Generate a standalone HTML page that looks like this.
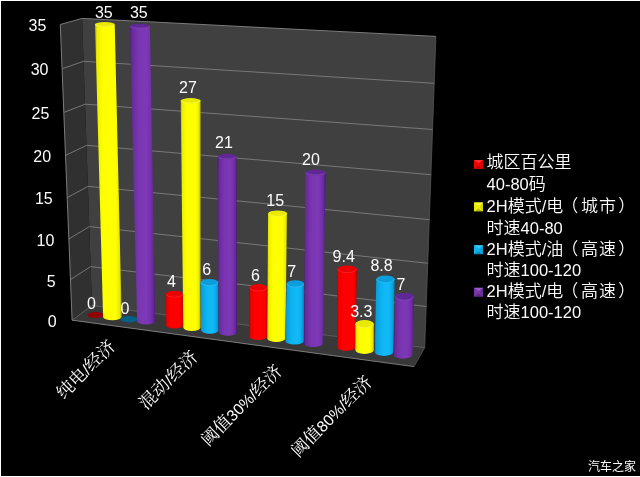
<!DOCTYPE html>
<html lang="zh-CN"><head><meta charset="utf-8"><title>chart</title>
<style>
html,body{margin:0;padding:0;background:#000;overflow:hidden}
body{width:640px;height:477px}
svg{display:block}
text{font-family:"Liberation Sans","Noto Sans CJK SC",sans-serif;fill:#fff}
.num{font-size:16px}
.zero{font-size:16px}
.cat{font-size:15.7px;font-family:"Liberation Sans","Noto Serif CJK SC",serif;font-weight:400}
.leg{font-size:16.5px;font-weight:350}
.wm{font-size:12px;font-weight:400}
</style></head><body>
<svg width="640" height="477" viewBox="0 0 640 477">
<defs>
<linearGradient id="gr" x1="0" y1="0" x2="1" y2="0"><stop offset="0" stop-color="#b80000"/><stop offset="0.08" stop-color="#ec0000"/><stop offset="0.3" stop-color="#ff0000"/><stop offset="0.78" stop-color="#ff0000"/><stop offset="0.92" stop-color="#e80000"/><stop offset="1" stop-color="#b40000"/></linearGradient>
<linearGradient id="gy" x1="0" y1="0" x2="1" y2="0"><stop offset="0" stop-color="#b4b400"/><stop offset="0.08" stop-color="#eeee00"/><stop offset="0.3" stop-color="#ffff00"/><stop offset="0.78" stop-color="#ffff00"/><stop offset="0.92" stop-color="#e8e800"/><stop offset="1" stop-color="#b0b000"/></linearGradient>
<linearGradient id="gc" x1="0" y1="0" x2="1" y2="0"><stop offset="0" stop-color="#067cb0"/><stop offset="0.08" stop-color="#08a0dc"/><stop offset="0.35" stop-color="#0cb4f2"/><stop offset="0.65" stop-color="#14baf8"/><stop offset="0.8" stop-color="#0cb2f0"/><stop offset="0.92" stop-color="#089cd8"/><stop offset="1" stop-color="#0678a8"/></linearGradient>
<linearGradient id="gp" x1="0" y1="0" x2="1" y2="0"><stop offset="0" stop-color="#4c1c78"/><stop offset="0.08" stop-color="#682a9c"/><stop offset="0.35" stop-color="#7a36b2"/><stop offset="0.65" stop-color="#7c38b6"/><stop offset="0.8" stop-color="#7632ac"/><stop offset="0.92" stop-color="#642898"/><stop offset="1" stop-color="#481870"/></linearGradient>
</defs>
<rect x="0" y="0" width="640" height="477" fill="#000"/>
<polygon points="60.3,24.5 82.1,18.4 92.0,305.5 72.1,320.2" fill="#303030"/>
<polygon points="82.1,18.4 435.9,36.4 424.7,347.7 92.0,305.5" fill="#404040"/>
<polygon points="72.1,320.2 92.0,305.5 424.7,347.7 414.0,366.6" fill="#383838"/>
<polyline points="62.4,68.6 83.7,61.3 434.4,83.3" fill="none" stroke="#828282" stroke-width="0.85"/>
<polyline points="64.2,112.3 85.2,104.2 433.0,129.5" fill="none" stroke="#828282" stroke-width="0.85"/>
<polyline points="65.8,155.3 86.7,145.3 431.3,174.7" fill="none" stroke="#828282" stroke-width="0.85"/>
<polyline points="67.3,197.6 88.1,186.3 429.7,219.7" fill="none" stroke="#828282" stroke-width="0.85"/>
<polyline points="68.9,238.9 89.4,226.6 428.2,263.3" fill="none" stroke="#828282" stroke-width="0.85"/>
<polyline points="70.5,279.5 90.7,266.6 426.6,306.5" fill="none" stroke="#828282" stroke-width="0.85"/>
<polyline points="72.1,320.2 60.3,24.5 82.1,18.4 435.9,36.4" fill="none" stroke="#7c7c7c" stroke-width="1"/>
<polyline points="72.1,320.2 92.0,305.5 424.7,347.7" fill="none" stroke="#6a6a6a" stroke-width="0.8"/>
<polyline points="72.1,320.2 414.0,366.6" fill="none" stroke="#8c8c8c" stroke-width="0.85"/>
<polyline points="435.9,36.4 424.7,347.7 414.0,366.6" fill="none" stroke="#555" stroke-width="0.8"/>
<ellipse cx="96.0" cy="315.0" rx="8.6" ry="3.0" fill="#900000"/>
<path d="M95.0,24.5 L103.1,317.0 A9.3,3.2 0 0 0 121.7,317.0 L114.7,24.5 Z" fill="url(#gy)"/>
<ellipse cx="104.8" cy="24.5" rx="9.9" ry="2.4" fill="#eaea00"/>
<path d="M95.4,24.5 A9.5,2.1 0 0 0 114.3,24.5" fill="none" stroke="#ffff70" stroke-width="0.7" stroke-opacity="0.75"/>
<ellipse cx="129.0" cy="319.3" rx="8.6" ry="3.2" fill="#006088"/>
<path d="M129.9,26.1 L137.1,321.3 A9.1,3.2 0 0 0 155.3,321.3 L149.9,26.1 Z" fill="url(#gp)"/>
<ellipse cx="139.9" cy="26.1" rx="10.0" ry="2.4" fill="#602896"/>
<path d="M130.3,26.1 A9.6,2.1 0 0 0 149.5,26.1" fill="none" stroke="#9858cc" stroke-width="0.7" stroke-opacity="0.75"/>
<path d="M165.7,294.3 L166.2,325.4 A8.6,3.4 0 0 0 183.3,325.4 L183.0,294.3 Z" fill="url(#gr)"/>
<ellipse cx="174.3" cy="294.3" rx="8.7" ry="3.5" fill="#ea0000"/>
<path d="M166.1,294.3 A8.3,3.2 0 0 0 182.6,294.3" fill="none" stroke="#ff4040" stroke-width="0.7" stroke-opacity="0.75"/>
<path d="M180.7,100.8 L183.3,327.6 A8.6,3.4 0 0 0 200.6,327.6 L200.6,100.8 Z" fill="url(#gy)"/>
<ellipse cx="190.6" cy="100.8" rx="10.0" ry="2.7" fill="#eaea00"/>
<path d="M181.1,100.8 A9.6,2.4 0 0 0 200.2,100.8" fill="none" stroke="#ffff70" stroke-width="0.7" stroke-opacity="0.75"/>
<path d="M200.3,282.4 L201.1,330.3 A8.8,3.4 0 0 0 218.7,330.3 L218.4,282.4 Z" fill="url(#gc)"/>
<ellipse cx="209.4" cy="282.4" rx="9.0" ry="3.5" fill="#0c9edc"/>
<path d="M200.7,282.4 A8.6,3.2 0 0 0 218.0,282.4" fill="none" stroke="#40ccff" stroke-width="0.7" stroke-opacity="0.75"/>
<path d="M217.6,156.7 L218.7,332.6 A9.2,3.4 0 0 0 237.0,332.6 L236.5,156.7 Z" fill="url(#gp)"/>
<ellipse cx="227.1" cy="156.7" rx="9.5" ry="2.9" fill="#602896"/>
<path d="M218.0,156.7 A9.1,2.6 0 0 0 236.1,156.7" fill="none" stroke="#9858cc" stroke-width="0.7" stroke-opacity="0.75"/>
<path d="M249.5,287.7 L249.2,336.4 A9.0,3.6 0 0 0 267.2,336.4 L267.5,287.7 Z" fill="url(#gr)"/>
<ellipse cx="258.5" cy="287.7" rx="9.0" ry="3.6" fill="#ea0000"/>
<path d="M249.9,287.7 A8.6,3.3 0 0 0 267.1,287.7" fill="none" stroke="#ff4040" stroke-width="0.7" stroke-opacity="0.75"/>
<path d="M268.1,213.5 L267.2,338.7 A9.1,3.6 0 0 0 285.3,338.7 L287.1,213.5 Z" fill="url(#gy)"/>
<ellipse cx="277.6" cy="213.5" rx="9.5" ry="3.1" fill="#eaea00"/>
<path d="M268.5,213.5 A9.1,2.8 0 0 0 286.7,213.5" fill="none" stroke="#ffff70" stroke-width="0.7" stroke-opacity="0.75"/>
<path d="M286.6,283.8 L285.3,341.0 A9.3,3.6 0 0 0 303.9,341.0 L304.2,283.8 Z" fill="url(#gc)"/>
<ellipse cx="295.4" cy="283.8" rx="8.8" ry="3.6" fill="#0c9edc"/>
<path d="M287.0,283.8 A8.4,3.3 0 0 0 303.8,283.8" fill="none" stroke="#40ccff" stroke-width="0.7" stroke-opacity="0.75"/>
<path d="M305.3,172.6 L303.9,343.4 A9.4,3.6 0 0 0 322.7,343.4 L325.6,172.6 Z" fill="url(#gp)"/>
<ellipse cx="315.5" cy="172.6" rx="10.2" ry="3.0" fill="#602896"/>
<path d="M305.7,172.6 A9.8,2.7 0 0 0 325.2,172.6" fill="none" stroke="#9858cc" stroke-width="0.7" stroke-opacity="0.75"/>
<path d="M337.3,269.2 L337.0,347.0 A9.2,3.8 0 0 0 355.5,347.0 L356.9,269.2 Z" fill="url(#gr)"/>
<ellipse cx="347.1" cy="269.2" rx="9.8" ry="3.7" fill="#ea0000"/>
<path d="M337.7,269.2 A9.4,3.4 0 0 0 356.5,269.2" fill="none" stroke="#ff4040" stroke-width="0.7" stroke-opacity="0.75"/>
<path d="M355.2,324.0 L355.2,350.1 A9.3,3.8 0 0 0 373.9,350.1 L373.9,324.0 Z" fill="url(#gy)"/>
<ellipse cx="364.5" cy="324.0" rx="9.3" ry="4.0" fill="#eaea00"/>
<path d="M355.6,324.0 A8.9,3.7 0 0 0 373.5,324.0" fill="none" stroke="#ffff70" stroke-width="0.7" stroke-opacity="0.75"/>
<path d="M376.3,279.2 L374.6,352.1 A9.3,3.8 0 0 0 393.3,352.1 L394.7,279.2 Z" fill="url(#gc)"/>
<ellipse cx="385.5" cy="279.2" rx="9.2" ry="3.8" fill="#0c9edc"/>
<path d="M376.7,279.2 A8.8,3.5 0 0 0 394.3,279.2" fill="none" stroke="#40ccff" stroke-width="0.7" stroke-opacity="0.75"/>
<path d="M395.2,296.6 L393.6,354.9 A9.4,3.8 0 0 0 412.4,354.9 L414.0,296.6 Z" fill="url(#gp)"/>
<ellipse cx="404.6" cy="296.6" rx="9.4" ry="3.9" fill="#602896"/>
<path d="M395.6,296.6 A9.0,3.6 0 0 0 413.6,296.6" fill="none" stroke="#9858cc" stroke-width="0.7" stroke-opacity="0.75"/>
<g opacity="0.996">
<text class="num" x="46.3" y="30.8" text-anchor="end">35</text>
<text class="num" x="48.5" y="75.0" text-anchor="end">30</text>
<text class="num" x="49.3" y="118.9" text-anchor="end">25</text>
<text class="num" x="51.1" y="162.2" text-anchor="end">20</text>
<text class="num" x="52.7" y="204.2" text-anchor="end">15</text>
<text class="num" x="54.4" y="246.2" text-anchor="end">10</text>
<text class="num" x="55.6" y="287.2" text-anchor="end">5</text>
<text class="zero" x="56.6" y="327.2" text-anchor="end">0</text>
<text class="num" x="94.9" y="17.9">35</text>
<text class="num" x="129.9" y="17.9">35</text>
<text class="zero" x="87.1" y="308.6">0</text>
<text class="zero" x="120.6" y="313.8">0</text>
<text class="num" x="167.0" y="286.9">4</text>
<text class="num" x="179.0" y="92.6">27</text>
<text class="num" x="202.2" y="275.1">6</text>
<text class="num" x="215.0" y="148.2">21</text>
<text class="num" x="251.0" y="280.6">6</text>
<text class="num" x="266.3" y="205.7">15</text>
<text class="num" x="287.2" y="276.7">7</text>
<text class="num" x="302.0" y="165.2">20</text>
<text class="num" x="332.6" y="261.7">9.4</text>
<text class="num" x="350.2" y="316.8">3.3</text>
<text class="num" x="370.4" y="271.4">8.8</text>
<text class="num" x="396.6" y="289.7">7</text>
<text class="cat" text-anchor="end" transform="translate(116.3,347.3) rotate(-45)"><tspan font-size="17.5px">纯电</tspan>/<tspan font-size="17.5px">经济</tspan></text>
<text class="cat" text-anchor="end" transform="translate(198.8,357.8) rotate(-45)"><tspan font-size="17.5px">混动</tspan>/<tspan font-size="17.5px">经济</tspan></text>
<text class="cat" text-anchor="end" transform="translate(283.0,372.2) rotate(-45)"><tspan font-size="17.5px">阈值</tspan>30%/<tspan font-size="17.5px">经济</tspan></text>
<text class="cat" text-anchor="end" transform="translate(373.0,383.1) rotate(-45)"><tspan font-size="17.5px">阈值</tspan>80%/<tspan font-size="17.5px">经济</tspan></text>
<text class="leg" x="486.6" y="167.8"><tspan font-size="17px">城区百公里</tspan></text>
<text class="leg" x="486.6" y="189.8">40-80<tspan font-size="17px">码</tspan></text>
<text class="leg" x="486.6" y="211.9">2H<tspan font-size="17px">模式</tspan>/<tspan font-size="17px">电</tspan><tspan font-size="17px" dx="-2 2.6 1.2 2.2">（城市）</tspan></text>
<text class="leg" x="486.6" y="233.7"><tspan font-size="17px">时速</tspan>40-80</text>
<text class="leg" x="486.6" y="254.7">2H<tspan font-size="17px">模式</tspan>/<tspan font-size="17px">油</tspan><tspan font-size="17px" dx="-2 2.6 1.2 2.2">（高速）</tspan></text>
<text class="leg" x="486.6" y="276.4"><tspan font-size="17px">时速</tspan>100-120</text>
<text class="leg" x="486.6" y="297.0">2H<tspan font-size="17px">模式</tspan>/<tspan font-size="17px">电</tspan><tspan font-size="17px" dx="-2 2.6 1.2 2.2">（高速）</tspan></text>
<text class="leg" x="486.6" y="318.2"><tspan font-size="17px">时速</tspan>100-120</text>
<rect x="474" y="160.0" width="9" height="9" fill="#f00000"/>
<path d="M474,160.0 h9 l-4.5,3.2 Z" fill="#ff4040" opacity="0.75"/>
<path d="M474,169.0 h9 l-4.5,-3 Z" fill="#000" opacity="0.22"/>
<path d="M483,160.0 v9 l-3,-4.5 Z" fill="#000" opacity="0.12"/>
<rect x="474" y="202.4" width="9" height="9" fill="#f0f000"/>
<path d="M474,202.4 h9 l-4.5,3.2 Z" fill="#ffff60" opacity="0.75"/>
<path d="M474,211.4 h9 l-4.5,-3 Z" fill="#000" opacity="0.22"/>
<path d="M483,202.4 v9 l-3,-4.5 Z" fill="#000" opacity="0.12"/>
<rect x="474" y="245.2" width="9" height="9" fill="#10b4f0"/>
<path d="M474,245.2 h9 l-4.5,3.2 Z" fill="#50d4ff" opacity="0.75"/>
<path d="M474,254.2 h9 l-4.5,-3 Z" fill="#000" opacity="0.22"/>
<path d="M483,245.2 v9 l-3,-4.5 Z" fill="#000" opacity="0.12"/>
<rect x="474" y="287.8" width="9" height="9" fill="#7836a8"/>
<path d="M474,287.8 h9 l-4.5,3.2 Z" fill="#a868d8" opacity="0.75"/>
<path d="M474,296.8 h9 l-4.5,-3 Z" fill="#000" opacity="0.22"/>
<path d="M483,287.8 v9 l-3,-4.5 Z" fill="#000" opacity="0.12"/>
<text class="wm" x="588.0" y="470.5">汽车之家</text>
</g>
<rect x="0" y="0" width="640" height="1" fill="#fff"/>
<rect x="0" y="0" width="1" height="477" fill="#fff"/>
<rect x="0" y="476" width="640" height="1" fill="#fff"/>
</svg>
</body></html>
